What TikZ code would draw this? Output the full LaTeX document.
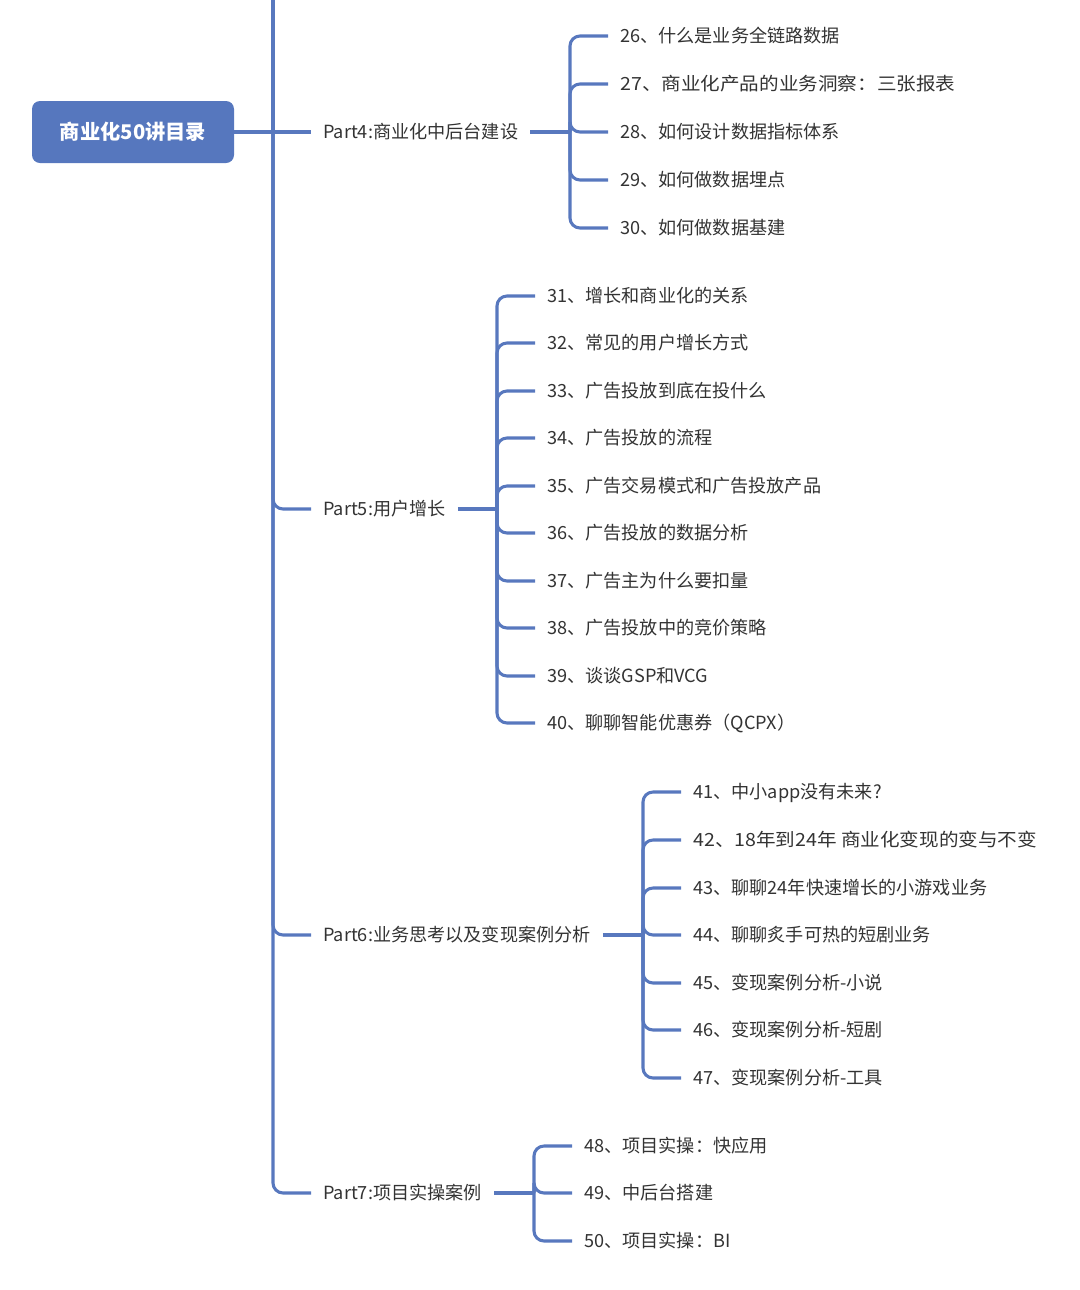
\documentclass[tikz,border=0pt]{standalone}
\usepackage{fontspec}
\setmainfont{Noto Sans CJK SC}
\definecolor{lineblue}{HTML}{5878BE}
\definecolor{rootblue}{HTML}{5677BE}
\definecolor{txt}{HTML}{333333}
\newcommand{\wider}[1]{\scalebox{1.08}[1]{#1}}
\begin{document}
\begin{tikzpicture}[x=0.75pt,y=-0.75pt,
  conn/.style={draw=lineblue,line width=2.3pt,rounded corners=7.5pt},
  item/.style={anchor=west,inner xsep=9pt,inner ysep=0pt,text=txt,
    font=\fontsize{13.6pt}{16pt}\selectfont,text height=1.02em,text depth=0em},
  rootbox/.style={fill=rootblue,rounded corners=6pt,minimum width=151.5pt,minimum height=46.5pt,
    text=white,font=\fontsize{15.2pt}{18pt}\selectfont\bfseries,text height=1.05em,text depth=0em}
]
\useasboundingbox (0,0) rectangle (1080,1290);

\node[rootbox] (root) at (133,132) {商业化50讲目录};
\coordinate (t) at (273,132);
\coordinate (ttop) at (273,0);

% parts
\node[item] (p4) at (311,132) {Part4:商业化中后台建设};
\node[item] (p5) at (311,509) {Part5:用户增长};
\node[item] (p6) at (311,935) {Part6:业务思考以及变现案例分析};
\node[item] (p7) at (311,1193) {Part7:项目实操案例};

\draw[conn] (ttop) -- (t);
\draw[conn] (root.east) -- (t) -- (p4.west);
\draw[conn] (t) |- (p5.west);
\draw[conn] (t) |- (p6.west);
\draw[conn] (t) |- (p7.west);

% Part4 children
\coordinate (b4) at (570,132);
\node[item] (c26) at (608,36) {26、什么是业务全链路数据};
\node[item] (c27) at (608,84) {\wider{27、商业化产品的业务洞察：三张报表}};
\node[item] (c28) at (608,132) {28、如何设计数据指标体系};
\node[item] (c29) at (608,180) {29、如何做数据埋点};
\node[item] (c30) at (608,228) {30、如何做数据基建};
\draw[conn] (p4.east) -- (b4);
\foreach \c in {26,...,30} {\draw[conn] (b4) |- (c\c.west);}

% Part5 children
\coordinate (b5) at (497,509);
\node[item] (c31) at (535,296) {31、增长和商业化的关系};
\node[item] (c32) at (535,343) {32、常见的用户增长方式};
\node[item] (c33) at (535,391) {33、广告投放到底在投什么};
\node[item] (c34) at (535,438) {34、广告投放的流程};
\node[item] (c35) at (535,486) {35、广告交易模式和广告投放产品};
\node[item] (c36) at (535,533) {36、广告投放的数据分析};
\node[item] (c37) at (535,581) {37、广告主为什么要扣量};
\node[item] (c38) at (535,628) {38、广告投放中的竞价策略};
\node[item] (c39) at (535,676) {39、谈谈GSP和VCG};
\node[item] (c40) at (535,723) {40、聊聊智能优惠券（QCPX）};
\draw[conn] (p5.east) -- (b5);
\foreach \c in {31,...,40} {\draw[conn] (b5) |- (c\c.west);}

% Part6 children
\coordinate (b6) at (643,935);
\node[item] (c41) at (681,792) {41、中小app没有未来?};
\node[item] (c42) at (681,840) {\wider{42、18年到24年 商业化变现的变与不变}};
\node[item] (c43) at (681,888) {43、聊聊24年快速增长的小游戏业务};
\node[item] (c44) at (681,935) {44、聊聊炙手可热的短剧业务};
\node[item] (c45) at (681,983) {45、变现案例分析-小说};
\node[item] (c46) at (681,1030) {46、变现案例分析-短剧};
\node[item] (c47) at (681,1078) {47、变现案例分析-工具};
\draw[conn] (p6.east) -- (b6);
\foreach \c in {41,...,47} {\draw[conn] (b6) |- (c\c.west);}

% Part7 children
\coordinate (b7) at (534,1193);
\node[item] (c48) at (572,1146) {48、项目实操：快应用};
\node[item] (c49) at (572,1193) {49、中后台搭建};
\node[item] (c50) at (572,1241) {50、项目实操：BI};
\draw[conn] (p7.east) -- (b7);
\foreach \c in {48,49,50} {\draw[conn] (b7) |- (c\c.west);}
\end{tikzpicture}
\end{document}
